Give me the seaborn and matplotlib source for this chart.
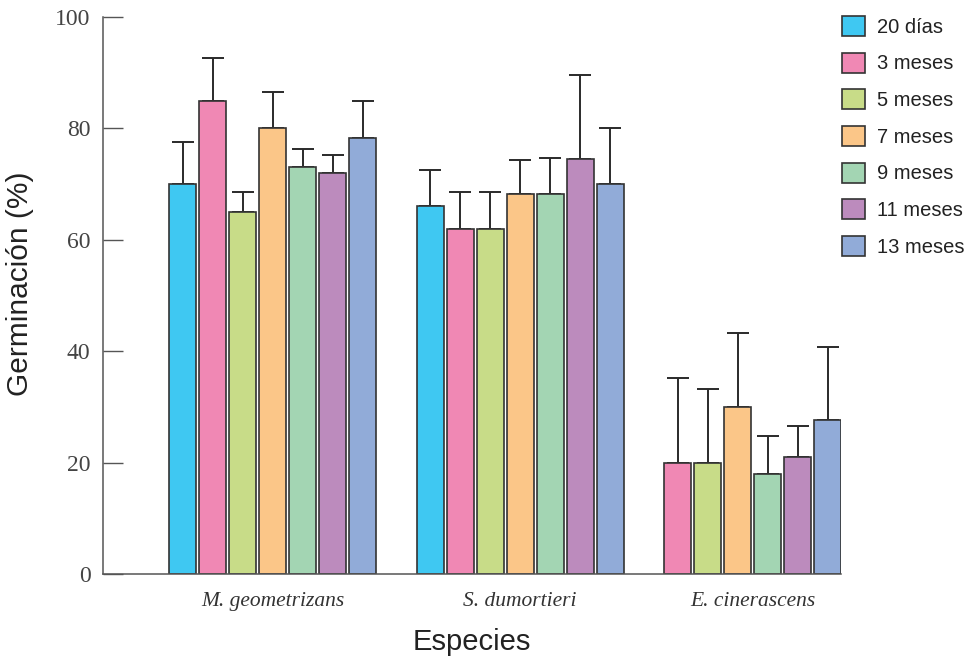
import numpy as np
import pandas as pd
import matplotlib
matplotlib.use("Agg")
import matplotlib.pyplot as plt
import seaborn as sns

# ---------------- data ----------------
species = ["M. geometrizans", "S. dumortieri", "E. cinerascens"]
periods = ["20 días", "3 meses", "5 meses", "7 meses", "9 meses", "11 meses", "13 meses"]

mgeo_mean = [70.0, 85.0, 65.0, 80.0, 73.0, 72.0, 78.3]
mgeo_err = [7.6, 7.6, 3.5, 6.5, 3.3, 3.2, 6.6]
sdum_mean = [66.0, 62.0, 62.0, 68.3, 68.3, 74.5, 70.0]
sdum_err = [6.6, 6.5, 6.5, 6.0, 6.3, 15.1, 10.1]
ecin_mean = [np.nan, 20.0, 20.0, 30.0, 18.0, 21.0, 27.6]
ecin_err = [np.nan, 15.1, 13.2, 13.2, 6.7, 5.6, 13.2]

colors = ["#3FC8F2", "#F088B4", "#C8DC88", "#FBC688", "#A3D5B3", "#BC8BBD", "#91ABD8"]

# ---------------- layout of bar slots ----------------
GROUP_STEP = 2.25  # step between last bar of a group and first of the next
rows = []
tick_pos = []
pos = 0.0
for sp, means, errs in zip(species, [mgeo_mean, sdum_mean, ecin_mean],
                           [mgeo_err, sdum_err, ecin_err]):
    grp = []
    for per, m, e in zip(periods, means, errs):
        if np.isnan(m):
            continue
        rows.append(dict(species=sp, period=per, pos=pos, value=m, err=e))
        grp.append(pos)
        pos += 1
    tick_pos.append(float(np.mean(grp)))
    pos += GROUP_STEP - 1
df = pd.DataFrame(rows)

# ---------------- figure ----------------
sns.set_theme(style="white")
plt.rcParams["font.family"] = ["Liberation Sans", "DejaVu Sans"]

W, H = 969, 657
fig = plt.figure(figsize=(W / 100, H / 100), dpi=100)
ax = fig.add_axes([103 / W, 83 / H, 738 / W, 557 / H])

edge = "#333333"
sns.barplot(data=df, x="pos", y="value", hue="period", hue_order=periods,
            palette=colors, saturation=1, native_scale=True, dodge=False, width=0.9,
            edgecolor=edge, linewidth=1.2, errorbar=None, ax=ax, zorder=2)

ax.errorbar(df["pos"], df["value"], yerr=[np.zeros(len(df)), df["err"]],
            fmt="none", ecolor="#2a2a2a", elinewidth=1.4, capsize=8,
            capthick=1.4, zorder=1)

ax.set_xlim(-2.65, 21.95)
ax.set_ylim(0, 100)
ax.set_yticks([0, 20, 40, 60, 80, 100])
ax.set_xticks(tick_pos)
ax.set_xticklabels(species, fontfamily="Liberation Serif", fontstyle="italic",
                   fontsize=15.5, color="#333333")
ax.set_yticklabels([str(v) for v in [0, 20, 40, 60, 80, 100]],
                   fontfamily="Liberation Serif", fontsize=17, color="#444444")
ax.tick_params(axis="y", left=True, direction="in", length=14.4, width=1.0,
               color="#555555", pad=9)
ax.tick_params(axis="x", bottom=False, length=0, pad=13)

for s in ["top", "right"]:
    ax.spines[s].set_visible(False)
for s in ["left", "bottom"]:
    ax.spines[s].set_color("#555555")
    ax.spines[s].set_linewidth(1.1)

ax.set_xlabel("Especies", fontsize=21, color="#222222")
ax.set_ylabel("Germinación (%)", fontsize=21.5, color="#222222")
ax.xaxis.set_label_coords(0.5, -0.097)
ax.yaxis.set_label_coords(-0.094, 0.5215)

sns.move_legend(ax, "upper left", bbox_to_anchor=(842 / W, 1 - 16 / H),
                bbox_transform=fig.transFigure, frameon=False, title=None,
                handlelength=1.14, handleheight=1.14, labelspacing=0.79,
                handletextpad=0.62, borderpad=0, borderaxespad=0, fontsize=14.5)
leg = ax.get_legend()
for h in leg.legend_handles:
    h.set_edgecolor(edge)
    h.set_linewidth(1.2)
for t in leg.get_texts():
    t.set_color("#222222")

fig.savefig("out.png", dpi=100)
